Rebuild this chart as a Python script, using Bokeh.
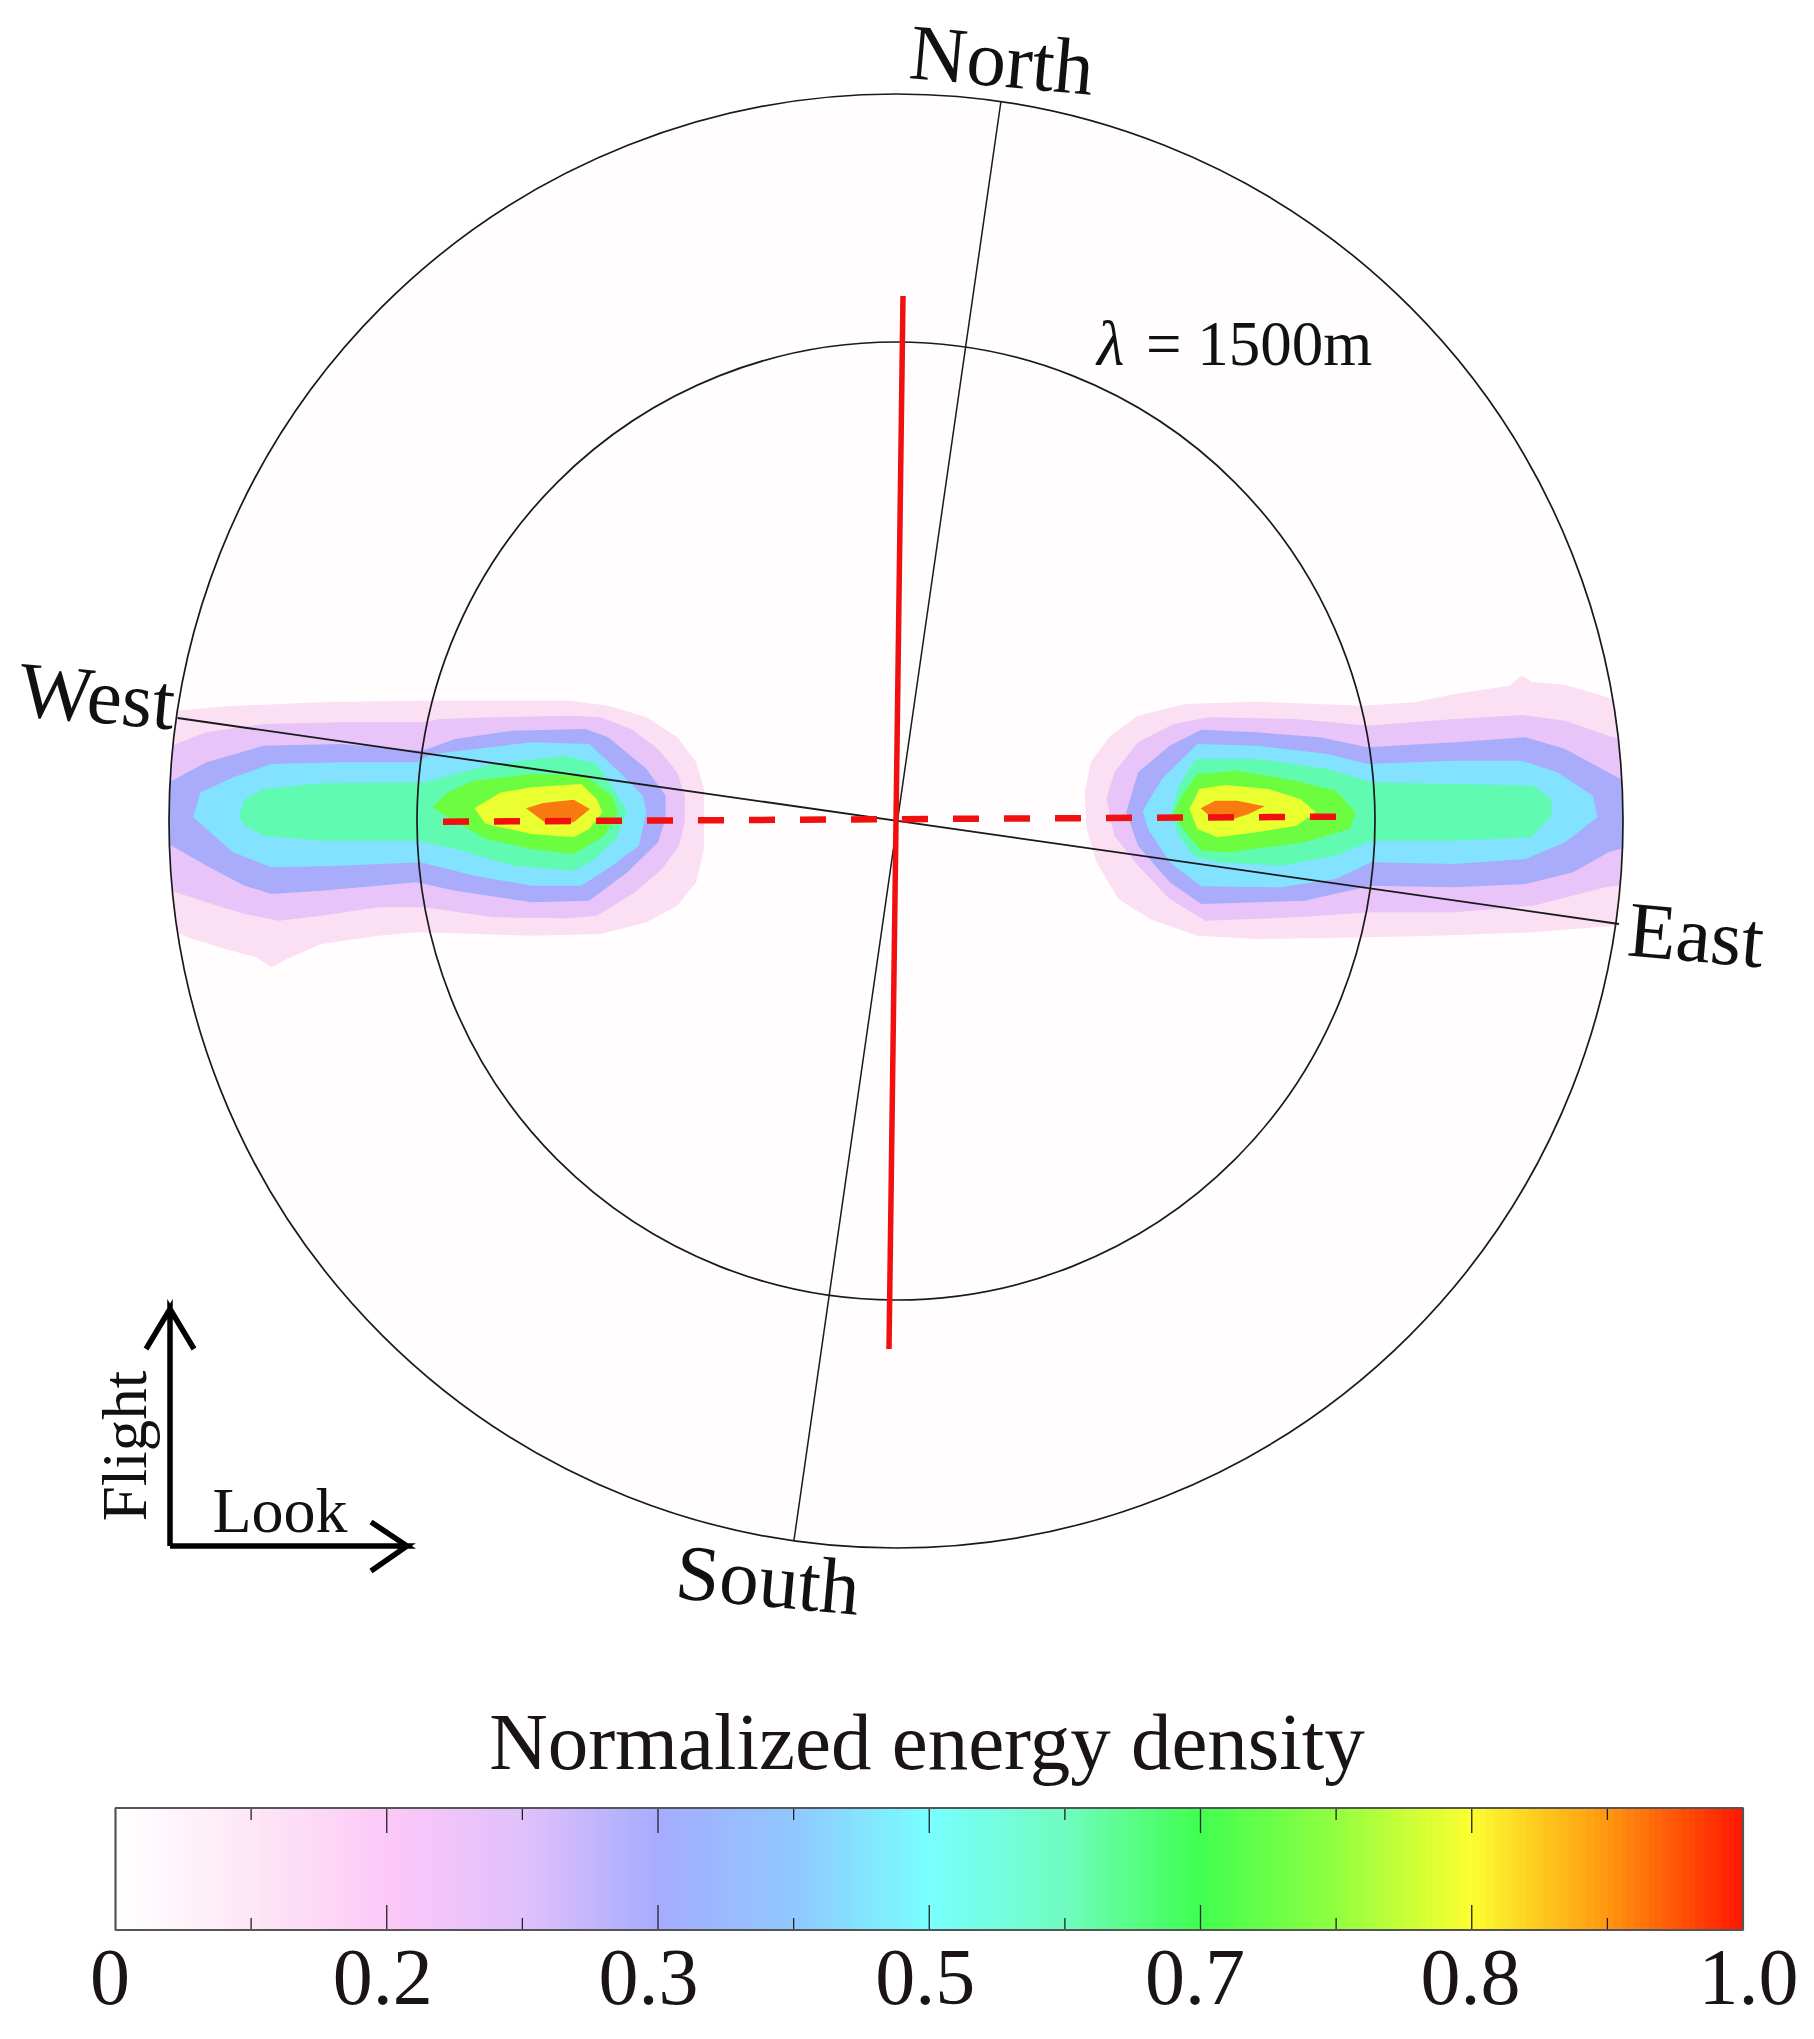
import numpy as np
from bokeh.plotting import figure
from bokeh.models import LinearColorMapper
from bokeh.embed import file_html
from bokeh.resources import INLINE

SERIF = "Liberation Serif"

# ---- contour bands, outer to inner (crop coordinates)
level_colors = ["#fbdff3", "#e8c4f8", "#a8acfa", "#82e2ff", "#60fbb0", "#6cfc40", "#eaff30", "#f97a10"]

west_x = [
    [40,75,200,450,700,1100,1200,1300,1380,1430,1450,1450,1430,1380,1300,1180,1000,700,600,450,360,320,280,200,100,40],
    [30,70,150,300,500,720,760,900,1100,1180,1260,1330,1380,1400,1400,1385,1340,1270,1170,1100,900,720,600,450,340,250,150,70,30],
    [30,60,150,300,500,715,800,950,1140,1200,1300,1350,1350,1330,1250,1150,1000,800,700,450,320,250,150,60,30],
    [115,135,220,320,500,700,740,1000,1150,1230,1290,1300,1280,1210,1130,1000,850,710,500,320,220],
    [235,250,300,450,720,900,1090,1170,1215,1250,1220,1160,1110,950,800,700,450,300,250],
    [740,780,850,1000,1140,1210,1225,1190,1110,1000,880,790],
    [850,920,1000,1130,1170,1185,1150,1110,1000,880],
    [985,1030,1110,1152,1110,1040],
]
west_y = [
    [190,185,172,160,155,155,170,205,265,340,420,600,700,770,820,855,860,850,860,885,930,955,925,900,865,830],
    [300,285,250,225,220,220,210,205,200,205,240,300,370,440,520,590,660,730,800,808,805,775,775,800,815,795,760,730,700],
    [400,395,340,290,285,305,270,245,240,265,360,440,510,580,670,755,760,725,700,725,735,710,650,590,585],
    [505,430,385,345,340,340,315,280,285,370,440,490,590,650,710,710,680,640,650,655,610],
    [500,450,420,403,400,345,320,345,420,490,570,635,665,650,600,575,575,560,530],
    [475,430,395,375,380,440,490,560,615,600,570,510],
    [478,430,415,405,450,490,540,565,555,525],
    [478,462,452,480,520,525],
]
east_x = [
    [65,80,130,200,320,500,770,900,1000,1140,1170,1195,1280,1360,1450,1480,1480,1400,1200,950,780,500,350,230,150,95,70],
    [120,140,200,290,380,600,780,1000,1170,1280,1400,1480,1480,1380,1200,1000,790,600,370,280,200,140],
    [170,200,280,360,500,660,780,1000,1180,1280,1420,1480,1480,1390,1300,1180,1000,790,620,360,280,200],
    [212,260,350,500,680,780,1000,1170,1260,1350,1362,1280,1180,1000,790,700,560,360,280,225],
    [285,300,345,500,680,790,1000,1200,1245,1245,1195,1000,790,700,560,400,340,300],
    [290,310,350,450,600,700,750,735,620,430,360,320],
    [330,355,420,530,610,650,600,500,400,350],
    [358,395,450,520,480,440,385],
]
east_y = [
    [430,340,260,200,165,158,170,160,135,110,80,98,108,135,170,170,830,830,850,860,865,870,860,810,750,640,540],
    [450,370,280,225,205,210,230,210,198,215,265,280,700,715,770,790,790,805,815,750,650,560],
    [490,370,290,242,250,265,295,280,265,300,390,390,580,610,670,705,715,710,755,765,700,590],
    [485,390,285,290,315,345,335,335,370,440,505,580,630,645,640,690,715,712,640,540],
    [490,420,330,330,360,400,405,410,450,500,565,575,575,620,650,640,620,555],
    [495,440,375,365,395,425,490,540,580,610,605,550],
    [480,420,408,420,450,490,530,550,565,540],
    [478,455,455,472,495,510,505],
]

# ---- polar frame
center = (897, 822)
ring_radii = [479, 727]
spoke_ns_x = [1002, 795]
spoke_ns_y = [102, 1541]
spoke_we_x = [178.5, 1620]
spoke_we_y = [719, 925]
red_solid_x = [904, 890]
red_solid_y = [297, 1350]
red_dash_x = [444, 1341]
red_dash_y = [822.7, 817.7]

# ---- compass labels
compass_text = ["North", "South", "West", "East"]
compass_x = [1003, 769, 98, 1697]
compass_y = [61, 1581, 697, 936]

# ---- arrows
flight_x = [147, 171, 171, 171, 195]
flight_y = [1350, 1310, 1547, 1310, 1350]
look_x = [372, 408, 171, 408, 372]
look_y = [1523, 1547, 1547, 1547, 1572]

# ---- colour bar
cbar_colors = ["#ffffff", "#fde6f5", "#fcc8f8", "#e0c0fb", "#a6acff", "#90c8ff", "#78ffff",
               "#70fcc0", "#40ff50", "#90ff40", "#fcff30", "#ff9a10", "#ff1a00"]
cbar_tick_index = list(range(13))
cbar_labels = ["0", "0.2", "0.3", "0.5", "0.7", "0.8", "1.0"]
cbar_label_index = [-0.04, 1.97, 3.93, 5.97, 7.96, 9.99, 12.04]
cbar_left, cbar_right, cbar_top, cbar_bottom = 116.5, 1744, 1809, 1931


def crop_west(xs, ys):
    return [150 + x / 2.613 for x in xs], [650 + y / 3 for y in ys]


def crop_east(xs, ys):
    return [1060 + x / 2.529 for x in xs], [650 + y / 3 for y in ys]


p = figure(width=1806, height=2031, x_range=(1.5, 1807.5), y_range=(2032.5, 1.5),
           output_backend="svg", toolbar_location=None, min_border=0,
           background_fill_color="#ffffff", border_fill_color="#ffffff")
p.axis.visible = False
p.grid.visible = False
p.outline_line_color = None

# disc
p.circle([center[0]], [center[1]], radius=ring_radii[1], fill_color="#fffdfe", line_color=None)

# contour bands
for i, col in enumerate(level_colors):
    wx, wy = crop_west(west_x[i], west_y[i])
    ex, ey = crop_east(east_x[i], east_y[i])
    p.patches([wx, ex], [wy, ey], fill_color=col, line_color=None)

# trim the bands at the outer ring
p.annulus([center[0]], [center[1]], inner_radius=ring_radii[1], outer_radius=ring_radii[1] + 40,
          fill_color="#ffffff", line_color=None)

# spokes and rings
p.line(spoke_ns_x, spoke_ns_y, line_color="#1a1a1a", line_width=1.5)
p.line(spoke_we_x, spoke_we_y, line_color="#1a1a1a", line_width=1.8)
p.circle([center[0]] * 2, [center[1]] * 2, radius=ring_radii, fill_color=None,
         line_color="#1a1a1a", line_width=1.7)

# picked directions
p.line(red_solid_x, red_solid_y, line_color="#f01010", line_width=5.5)
p.line(red_dash_x, red_dash_y, line_color="#f01010", line_width=6.5, line_dash=[26, 25])

# compass labels
p.text(compass_x, compass_y, text=compass_text, angle=[-0.09] * 4, text_font=SERIF,
       text_font_size="79px", text_color="#111111", text_align="center", text_baseline="middle")

# wavelength label
p.text([1098], [345], text=["λ"], text_font=SERIF, text_font_style="italic",
       text_font_size="63px", text_color="#111111", text_align="left", text_baseline="middle")
p.text([1147], [345], text=["= 1500m"], text_font=SERIF,
       text_font_size="63px", text_color="#111111", text_align="left", text_baseline="middle")

# flight / look arrows
for xs, ys in ((flight_x, flight_y), (look_x, look_y)):
    p.line(xs, ys, line_color="#000000", line_width=5.5, line_join="miter")
p.text([126], [1447], text=["Flight"], angle=[np.pi / 2], text_font=SERIF, text_font_size="63px",
       text_color="#111111", text_align="center", text_baseline="alphabetic")
p.text([281], [1511], text=["Look"], text_font=SERIF, text_font_size="64px",
       text_color="#111111", text_align="center", text_baseline="alphabetic")

# colour bar
ramp = []
for a, b in zip(cbar_colors[:-1], cbar_colors[1:]):
    ca = np.array([int(a[j:j + 2], 16) for j in (1, 3, 5)])
    cb = np.array([int(b[j:j + 2], 16) for j in (1, 3, 5)])
    for t in np.linspace(0, 1, 21)[:-1]:
        c = np.round(ca + (cb - ca) * t).astype(int)
        ramp.append("#%02x%02x%02x" % tuple(c))
ramp.append(cbar_colors[-1])
mapper = LinearColorMapper(palette=ramp, low=0, high=12)
p.image(image=[np.linspace(0, 12, 600).reshape(1, -1)], x=cbar_left, y=cbar_top,
        dw=cbar_right - cbar_left, dh=cbar_bottom - cbar_top, color_mapper=mapper)

step = (cbar_right - cbar_left) / 12
tick_x = [cbar_left + step * k for k in cbar_tick_index[1:-1]]
tick_len = [25 if (k % 2 == 0) else 12 for k in cbar_tick_index[1:-1]]
p.segment(tick_x, [cbar_top] * 11, tick_x, [cbar_top + n for n in tick_len], line_color="#222222", line_width=1.3)
p.segment(tick_x, [cbar_bottom] * 11, tick_x, [cbar_bottom - n for n in tick_len], line_color="#222222", line_width=1.3)
p.quad(left=[cbar_left], right=[cbar_right], top=[cbar_top], bottom=[cbar_bottom],
       fill_color=None, line_color="#555555", line_width=2.2)

p.text([cbar_left + step * k for k in cbar_label_index], [1978] * len(cbar_labels), text=cbar_labels,
       text_font=SERIF, text_font_size="80px", text_color="#1a1414", text_align="center", text_baseline="middle")
p.text([928], [1743], text=["Normalized energy density"], text_font=SERIF, text_font_size="81px",
       text_color="#1a1414", text_align="center", text_baseline="alphabetic")

open("out.html", "w").write(file_html(p, INLINE))
